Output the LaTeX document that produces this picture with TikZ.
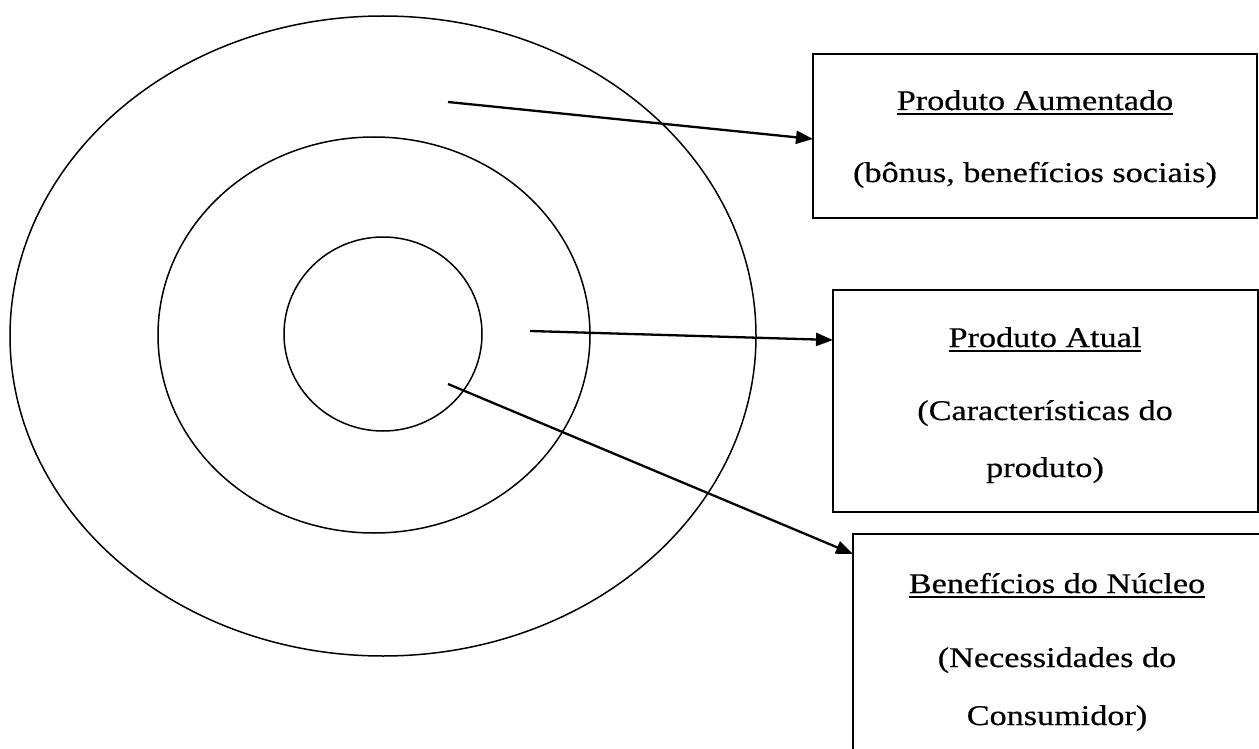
\documentclass[tikz,border=0pt]{standalone}
\usepackage{fontspec}
\setmainfont{Liberation Serif}[FakeStretch=1.2, FakeBold=0.5]
\usetikzlibrary{arrows.meta,calc}

\tikzset{
  ring/.style={draw=black, line width=1.5pt},
  levelbox/.style={draw=black, line width=2.2pt, rectangle, anchor=north west,
                   inner sep=0pt, outer sep=0pt},
  pointer/.style={draw=black, line width=2.3pt,
                  -{Triangle[length=17pt,width=13pt]}},
  label/.style={anchor=base, inner sep=0pt, outer sep=0pt,
                font=\fontsize{28.5}{28.5}\selectfont},
  uline/.style={draw=black, line width=1.8pt}
}

\begin{document}
\begin{tikzpicture}[x=1pt, y=-1pt]
  \useasboundingbox (0,0) rectangle (1259,749);
  \clip (0,0) rectangle (1259,749);

  % concentric product levels
  \draw[ring] (383,336) ellipse [x radius=373, y radius=320];
  \draw[ring] (374,335) ellipse [x radius=216, y radius=198];
  \draw[ring] (383,334) ellipse [x radius=99, y radius=97];

  % description boxes
  \node[levelbox, minimum width=444pt, minimum height=164pt] (b1) at (813,54) {};
  \node[levelbox, minimum width=425pt, minimum height=222pt] (b2) at (833,290) {};
  \node[levelbox, minimum width=408pt, minimum height=240pt] (b3) at (853,534) {};

  % box texts
  \node[label] (t1) at (1035,110) {Produto Aumentado};
  \node[label] (s1) at (1035,182) {(bônus, benefícios sociais)};

  \node[label] (t2) at (1045,347) {Produto Atual};
  \node[label] (s2a) at (1045,420) {(Características do};
  \node[label] (s2b) at (1045,477) {produto)};

  \node[label] (t3) at (1057,593) {Benefícios do Núcleo};
  \node[label] (s3a) at (1057,667) {(Necessidades do};
  \node[label] (s3b) at (1057,725) {Consumidor)};

  % title underlines
  \draw[uline] ([yshift=-4pt]t1.base west) -- ([yshift=-4pt]t1.base east);
  \draw[uline] ([yshift=-4pt]t2.base west) -- ([yshift=-4pt]t2.base east);
  \draw[uline] ([yshift=-4pt]t3.base west) -- ([yshift=-4pt]t3.base east);

  % pointers from the rings to the boxes
  \coordinate (p1) at (448,102);
  \coordinate (p2) at (530,331);
  \coordinate (p3) at (448,384);
  \coordinate (e1) at ([yshift=-85pt]b1.north west);
  \coordinate (e2) at ([yshift=-50pt]b2.north west);
  \coordinate (e3) at ([yshift=-20pt]b3.north west);
  \draw[pointer] (p1) -- (e1);
  \draw[pointer] (p2) -- (e2);
  \draw[pointer] (p3) -- (e3);
\end{tikzpicture}
\end{document}
